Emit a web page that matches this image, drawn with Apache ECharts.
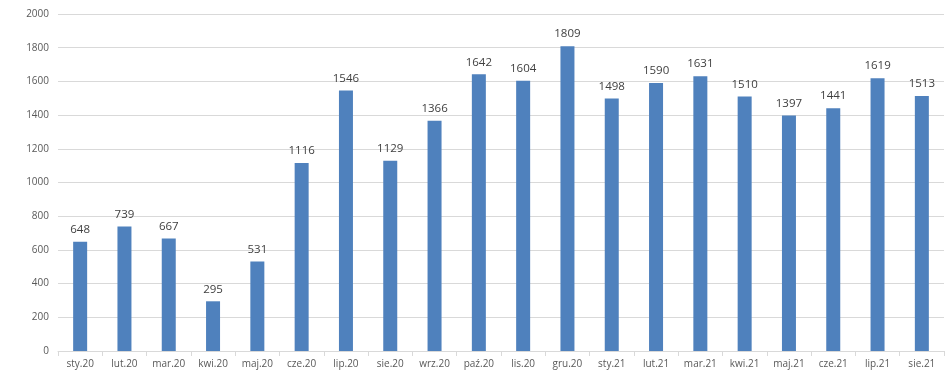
<!DOCTYPE html>
<html><head><meta charset="utf-8">
<script src="https://cdn.jsdelivr.net/npm/echarts@6/dist/echarts.min.js"></script>
<style>html,body{margin:0;padding:0;background:#fff}#c{width:948px;height:390px}</style>
</head><body><div id="c"></div>
<script>
const categories = ['sty.20','lut.20','mar.20','kwi.20','maj.20','cze.20','lip.20','sie.20','wrz.20','paź.20','lis.20','gru.20','sty.21','lut.21','mar.21','kwi.21','maj.21','cze.21','lip.21','sie.21'];
const values = [648,739,667,295,531,1116,1546,1129,1366,1642,1604,1809,1498,1590,1631,1510,1397,1441,1619,1513];
const chart = echarts.init(document.getElementById('c'));
chart.setOption({
  animation:false,
  grid:{left:58,right:4,top:14,bottom:39,containLabel:false},
  xAxis:{type:'category',data:categories,
    axisLine:{lineStyle:{color:'#d9d9d9'}},
    axisTick:{show:true,interval:0,length:5,lineStyle:{color:'#d9d9d9'}},
    axisLabel:{interval:0,color:'#595959',fontSize:10,fontFamily:'Open Sans, sans-serif',margin:8}},
  yAxis:{type:'value',min:0,max:2000,interval:200,
    axisLine:{show:false},axisTick:{show:false},
    splitLine:{lineStyle:{color:'#d9d9d9'}},
    axisLabel:{formatter:v=>String(v),color:'#595959',fontSize:10,fontFamily:'Open Sans, sans-serif',margin:9}},
  series:[{type:'bar',data:values,barWidth:14,
    itemStyle:{color:'#4f81bd'},
    label:{show:true,position:'top',distance:6,color:'#404040',fontSize:11.5,fontFamily:'Open Sans, sans-serif'}}]
});
</script></body></html>
